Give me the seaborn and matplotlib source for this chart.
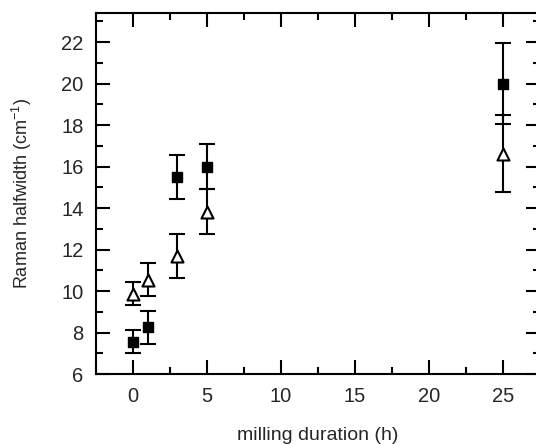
import numpy as np
import pandas as pd
import matplotlib
matplotlib.use("Agg")
import matplotlib.pyplot as plt
from matplotlib.ticker import MultipleLocator
import seaborn as sns

# milling duration (h)
duration = [0, 1, 3, 5, 25]

# filled squares
square_y = [7.55, 8.25, 15.48, 16.0, 20.0]
square_err = [0.56, 0.78, 1.06, 1.1, 1.95]

# open triangles
tri_y = [9.88, 10.55, 11.7, 13.83, 16.62]
tri_err = [0.54, 0.78, 1.07, 1.08, 1.86]

sns.set_theme(style="ticks")
plt.rcParams['font.family'] = ['Liberation Sans', 'DejaVu Sans']
plt.rcParams['mathtext.fontset'] = 'custom'
plt.rcParams['mathtext.rm'] = 'Liberation Sans'

df = pd.DataFrame({
    'duration': duration * 2,
    'halfwidth': square_y + tri_y,
    'err': square_err + tri_err,
    'series': ['square'] * len(duration) + ['triangle'] * len(duration),
})

fig = plt.figure(figsize=(5.36, 4.44), dpi=100)
ax = fig.add_axes([96 / 536, 70 / 444, 444 / 536, 361 / 444])

ax.errorbar(df['duration'], df['halfwidth'], yerr=df['err'], fmt='none',
            ecolor='black', elinewidth=1.5, capsize=6, capthick=1.5, zorder=2)

sq = df[df['series'] == 'square']
tr = df[df['series'] == 'triangle']
sns.scatterplot(data=sq, x='duration', y='halfwidth', marker='s', s=55,
                color='black', edgecolor='black', linewidth=1, ax=ax, zorder=3)
sns.scatterplot(data=tr, x='duration', y='halfwidth', marker='^', s=75,
                color='white', edgecolor='black', linewidth=1.5, ax=ax, zorder=3)

ax.set_xlim(-2.5, 27.5)
ax.set_ylim(6, 23.4)
ax.xaxis.set_major_locator(MultipleLocator(5))
ax.xaxis.set_minor_locator(MultipleLocator(2.5))
ax.yaxis.set_major_locator(MultipleLocator(2))
ax.yaxis.set_minor_locator(MultipleLocator(1))
ax.tick_params(which='both', direction='in', top=True, right=True,
               color='black', width=1.5, labelsize=14.5)
ax.tick_params(which='major', length=10)
ax.tick_params(which='minor', length=5)
ax.tick_params(axis='x', which='major', pad=9)
ax.tick_params(axis='y', which='major', pad=9)
for sp in ax.spines.values():
    sp.set_linewidth(1.5)
    sp.set_color('black')

ax.set_xlabel('milling duration (h)', fontsize=14)
ax.set_ylabel('Raman halfwidth (cm$^{-1}$)', fontsize=13)
ax.xaxis.set_label_coords(0.5, -0.147)
ax.yaxis.set_label_coords(-0.14, 0.5)

fig.savefig('out.png', dpi=100)
